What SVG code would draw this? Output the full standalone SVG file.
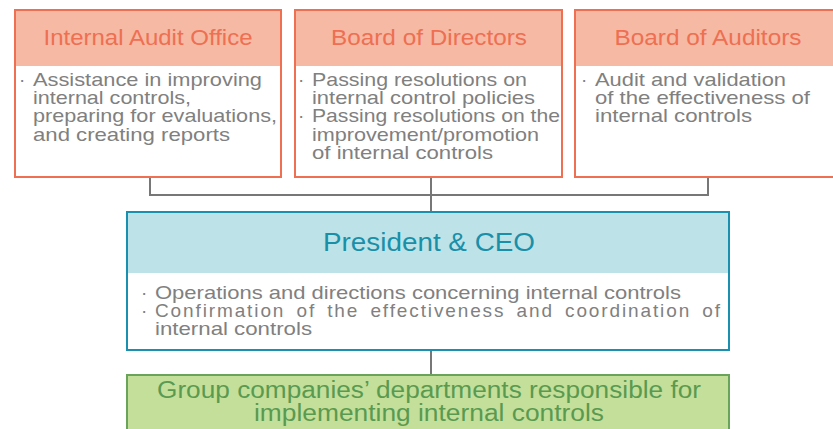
<svg xmlns="http://www.w3.org/2000/svg" width="833" height="429" viewBox="0 0 833 429">
<style>
.ob{fill:#ffffff;stroke:#ee6f51;stroke-width:2}
.oh{fill:#f6b9a4}
.ot{font-family:"Liberation Sans",Arial,sans-serif;font-size:22px;fill:#ee6f51;text-anchor:middle}
.bd{font-family:"Liberation Sans",Arial,sans-serif;font-size:19px;fill:#808080}
.tb{fill:#ffffff;stroke:#1a90b0;stroke-width:2}
.th{fill:#bde3e8}
.tt{font-family:"Liberation Sans",Arial,sans-serif;font-size:25px;fill:#1a8fa8;text-anchor:middle}
.gb{fill:#c3df9a;stroke:#6aa45a;stroke-width:2}
.gt{font-family:"Liberation Sans",Arial,sans-serif;font-size:23px;fill:#5a9a50;text-anchor:middle}
.ln{fill:none;stroke:#777777;stroke-width:2}
</style>
<rect width="833" height="429" fill="#ffffff"/>
<g id="connectors">
<path class="ln" d="M150,177 V195 H708 V177"/>
<path class="ln" d="M431,177 V212"/>
<path class="ln" d="M431,350 V375"/>
</g>
<g id="internal-audit-office">
<rect class="ob" x="15" y="10" width="266" height="167"/>
<rect class="oh" x="16" y="11" width="264" height="55"/>
<text class="ot" x="148" y="45" textLength="209" lengthAdjust="spacingAndGlyphs">Internal Audit Office</text>
<text class="bd" x="19" y="86">·</text>
<text class="bd" x="33" y="86" textLength="229" lengthAdjust="spacingAndGlyphs">Assistance in improving</text>
<text class="bd" x="33" y="104" textLength="158" lengthAdjust="spacingAndGlyphs">internal controls,</text>
<text class="bd" x="33" y="122" textLength="244" lengthAdjust="spacingAndGlyphs">preparing for evaluations,</text>
<text class="bd" x="33" y="141" textLength="197" lengthAdjust="spacingAndGlyphs">and creating reports</text>
</g>
<g id="board-of-directors">
<rect class="ob" x="295" y="10" width="267" height="167"/>
<rect class="oh" x="296" y="11" width="265" height="55"/>
<text class="ot" x="429" y="45" textLength="196" lengthAdjust="spacingAndGlyphs">Board of Directors</text>
<text class="bd" x="298" y="86">·</text>
<text class="bd" x="312" y="86" textLength="215" lengthAdjust="spacingAndGlyphs">Passing resolutions on</text>
<text class="bd" x="312" y="104" textLength="223" lengthAdjust="spacingAndGlyphs">internal control policies</text>
<text class="bd" x="298" y="122">·</text>
<text class="bd" x="312" y="122" textLength="248" lengthAdjust="spacingAndGlyphs">Passing resolutions on the</text>
<text class="bd" x="312" y="141" textLength="227" lengthAdjust="spacingAndGlyphs">improvement/promotion</text>
<text class="bd" x="312" y="159" textLength="181" lengthAdjust="spacingAndGlyphs">of internal controls</text>
</g>
<g id="board-of-auditors">
<rect class="ob" x="575" y="10" width="270" height="167"/>
<rect class="oh" x="576" y="11" width="268" height="55"/>
<text class="ot" x="708" y="45" textLength="187" lengthAdjust="spacingAndGlyphs">Board of Auditors</text>
<text class="bd" x="581" y="86">·</text>
<text class="bd" x="595" y="86" textLength="191" lengthAdjust="spacingAndGlyphs">Audit and validation</text>
<text class="bd" x="595" y="104" textLength="215" lengthAdjust="spacingAndGlyphs">of the effectiveness of</text>
<text class="bd" x="595" y="122" textLength="157" lengthAdjust="spacingAndGlyphs">internal controls</text>
</g>
<g id="president-ceo">
<rect class="tb" x="127" y="212" width="602" height="138"/>
<rect class="th" x="128" y="213" width="600" height="60"/>
<text class="tt" x="429" y="251" textLength="212" lengthAdjust="spacingAndGlyphs">President &amp; CEO</text>
<text class="bd" x="141" y="299">·</text>
<text class="bd" x="155" y="299" textLength="526" lengthAdjust="spacingAndGlyphs">Operations and directions concerning internal controls</text>
<text class="bd" x="141" y="317">·</text>
<text class="bd" x="155" y="317" word-spacing="4" textLength="565" lengthAdjust="spacing">Confirmation of the effectiveness and coordination of</text>
<text class="bd" x="155" y="335" textLength="157" lengthAdjust="spacingAndGlyphs">internal controls</text>
</g>
<g id="group-companies">
<rect class="gb" x="127" y="375" width="602" height="70"/>
<text class="gt" x="429" y="398" textLength="544" lengthAdjust="spacingAndGlyphs">Group companies’ departments responsible for</text>
<text class="gt" x="429" y="421" textLength="350" lengthAdjust="spacingAndGlyphs">implementing internal controls</text>
</g>
</svg>
